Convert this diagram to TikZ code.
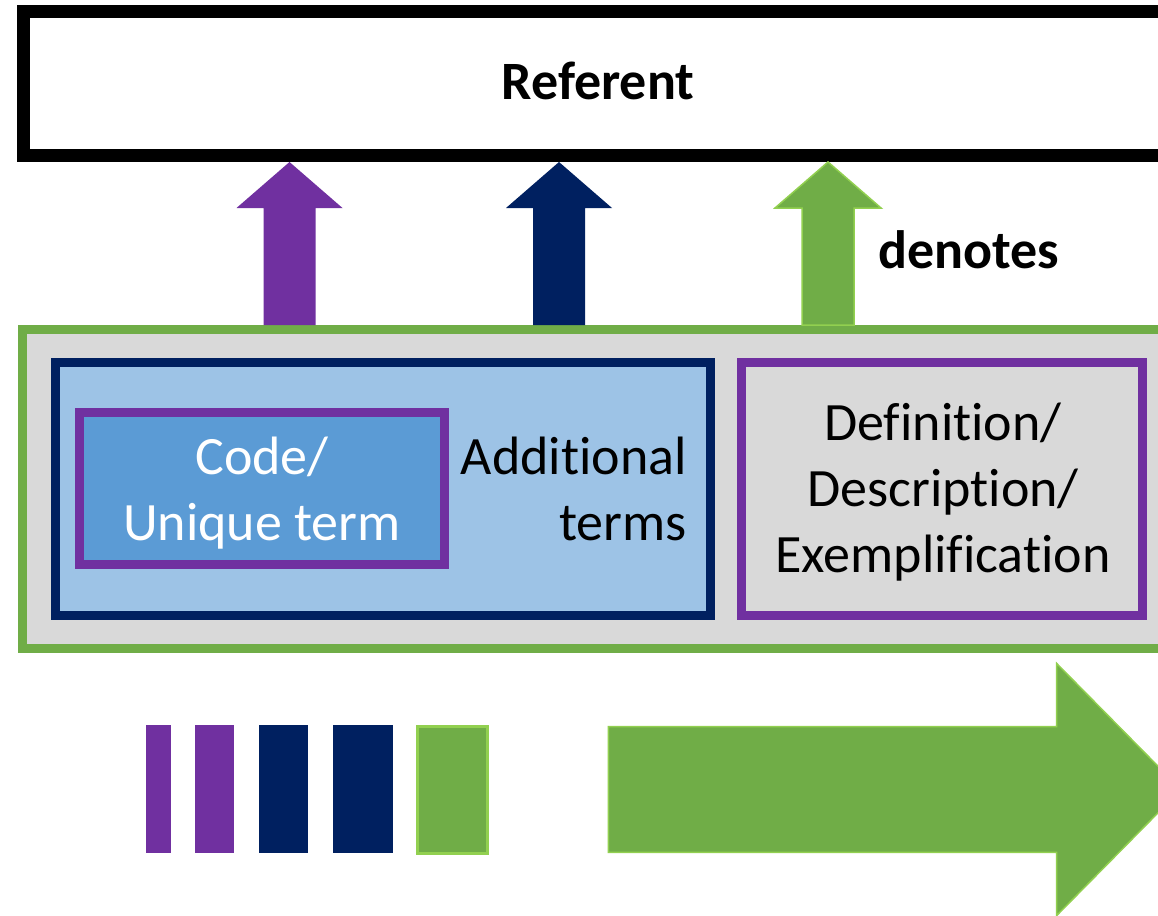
\documentclass[tikz,border=0pt]{standalone}
\usepackage{fontspec}
\setmainfont{Carlito}[Ligatures=NoCommon]
\usetikzlibrary{calc}
\definecolor{vpurple}{HTML}{7030A0}
\definecolor{vnavy}{HTML}{002060}
\definecolor{vgreen}{HTML}{70AD47}
\definecolor{vlime}{HTML}{92D050}
\definecolor{vgray}{HTML}{D9D9D9}
\definecolor{vsky}{HTML}{9DC3E6}
\definecolor{vblue}{HTML}{5B9BD5}
% stacked lines with a fixed 66pt baseline distance; the first row carries the baseline
\newcommand\stacklines[2]{\begin{tabular}[t]{@{}#1@{}}#2\end{tabular}}
% block arrow from the concept frame up to the referent, at the x of coordinate #1
\newcommand\denotearrow[2]{%
  \path (#1 |- ref.south) coordinate (tip) (#1 |- con.north) coordinate (foot);
  \path[#2] ($(foot)+(-26,0)$) -- ($(tip)+(-26,46)$) -- ($(tip)+(-53,46)$) -- (tip)
    -- ($(tip)+(53,46)$) -- ($(tip)+(26,46)$) -- ($(foot)+(26,0)$) -- cycle;}
\begin{document}
\begin{tikzpicture}[x=1pt,y=-1pt,
  every node/.style={inner sep=0pt},
  txt/.style={font=\fontsize{54}{66}\selectfont},
  boldtxt/.style={font=\bfseries\fontsize{54}{66}\selectfont},
  frame/.style={draw=#1, inner sep=0pt},
  arrowpurple/.style={fill=vpurple},
  arrownavy/.style={fill=vnavy},
  arrowgreen/.style={fill=vgreen, draw=vlime, line width=1.5},
]
\useasboundingbox (0,0) rectangle (1158,915);
\clip (0,0) rectangle (1158,915);
\fill[white] (0,0) rectangle (1158,915);

% referent
\node[frame=black, fill=white, line width=13, minimum width=1149, minimum height=144] (ref) at (598,83.5) {};
\node[boldtxt, anchor=base] (reftext) at (598,100) {Referent};

% concept frame with its terms and definition
\node[frame=vgreen, fill=vgray, line width=9, minimum width=1152, minimum height=319] (con) at (598.5,489) {};
\node[frame=vnavy, fill=vsky, line width=9, minimum width=655, minimum height=253] (terms) at (383,489) {};
\node[frame=vpurple, fill=vblue, line width=8.5, minimum width=365, minimum height=152] (code) at (262,488.5) {};
\node[frame=vpurple, fill=vgray, line width=9, minimum width=401, minimum height=253] (defn) at (942,489) {};

\node[txt, text=white, anchor=base] (codetext) at (262,474) {\stacklines{c}{Code/\\Unique term}};
\node[txt, anchor=base east] (addtext) at (687,474) {\stacklines{r}{Additional\\terms}};
\node[txt, anchor=base] (deftext) at (943,440) {\stacklines{c}{Definition/\\Description/\\Exemplification}};

% denotation arrows
\coordinate (xa) at (289.5,0);
\coordinate (xb) at (559,0);
\coordinate (xc) at (828,0);
\denotearrow{xa}{arrowpurple}
\denotearrow{xb}{arrownavy}
\denotearrow{xc}{arrowgreen}
\node[boldtxt, anchor=base west] (den) at (878,268) {denotes};

% colour bars
\fill[vpurple] (146,725) rectangle (171.3,853.3);
\fill[vpurple] (195.3,725) rectangle (233.7,853.3);
\fill[vnavy] (259,725) rectangle (308.3,853.3);
\fill[vnavy] (333.3,725) rectangle (392.7,853.3);
\filldraw[fill=vgreen, draw=vlime, line width=3] (417.8,726.5) rectangle (487.5,853.5);

% large arrow
\filldraw[fill=vgreen, draw=vlime, line width=1.5]
  (608.3,726.7) -- (1056.7,726.7) -- (1056.7,663.5) -- (1181,789.5)
  -- (1056.7,915.5) -- (1056.7,852.3) -- (608.3,852.3) -- cycle;
\end{tikzpicture}
\end{document}
